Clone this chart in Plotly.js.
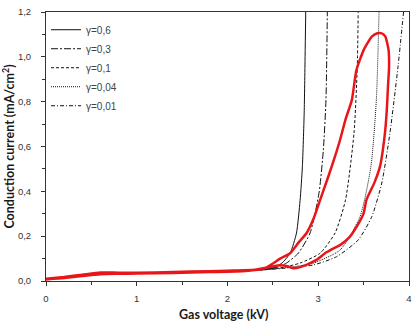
<!DOCTYPE html>
<html>
<head>
<meta charset="utf-8">
<script src="https://cdn.plot.ly/plotly-3.0.1.min.js"></script>
<style>
  html, body { margin: 0; padding: 0; background: #fff; }
  #chart { width: 418px; height: 323px; }
</style>
</head>
<body>
<div id="chart"></div>
<script>
// Simulated conduction current for several secondary-emission coefficients (gamma)
const gammaLabels = ['γ=0,6', 'γ=0,3', 'γ=0,1', 'γ=0,04', 'γ=0,01'];

const voltG06 = [2.2, 2.35, 2.5, 2.6, 2.69, 2.76, 2.8, 2.825, 2.845, 2.855, 2.862];
const currG06 = [0.045, 0.05, 0.058, 0.08, 0.124, 0.214, 0.36, 0.51, 0.75, 1.0, 1.2];

const voltG03 = [2.2, 2.4, 2.55, 2.65, 2.78, 2.91, 3.008, 3.056, 3.085, 3.1];
const currG03 = [0.045, 0.052, 0.062, 0.08, 0.124, 0.214, 0.392, 0.584, 0.807, 1.2];

const voltG01 = [2.2, 2.4, 2.6, 2.8, 3.02, 3.185, 3.30, 3.394, 3.43, 3.44];
const currG01 = [0.045, 0.05, 0.06, 0.08, 0.124, 0.214, 0.361, 0.66, 0.956, 1.2];

const voltG004 = [2.2, 2.4, 2.6, 2.8, 2.95, 3.24, 3.46, 3.58, 3.64, 3.67];
const currG004 = [0.045, 0.05, 0.058, 0.068, 0.08, 0.138, 0.287, 0.51, 0.807, 1.2];

const voltG001 = [2.2, 2.4, 2.6, 2.94, 3.2, 3.44, 3.59, 3.70, 3.79, 3.88, 3.94];
const currG001 = [0.045, 0.05, 0.056, 0.071, 0.108, 0.183, 0.287, 0.437, 0.66, 0.96, 1.2];

// Measured current–voltage loop
const measVolt = [0, 0.2, 0.4, 0.6, 0.8, 1.0, 1.4, 1.8, 2.2, 2.4, 2.505,
  2.58, 2.69, 2.78, 2.87, 2.95, 3.02, 3.11, 3.18, 3.24, 3.3, 3.37, 3.42, 3.5, 3.59, 3.65,
  3.70, 3.74, 3.775, 3.78, 3.77, 3.755, 3.735, 3.68, 3.62, 3.53, 3.50, 3.42, 3.35, 3.24,
  3.17, 3.09, 2.98, 2.87, 2.80, 2.725, 2.66, 2.58, 2.5, 2.3, 2.0, 1.6, 1.2, 0.8,
  0.6, 0.4, 0.2, 0];
const measCurr = [0.007, 0.013, 0.022, 0.03, 0.032, 0.033, 0.036, 0.040, 0.045, 0.055, 0.079,
  0.1, 0.124, 0.17, 0.213, 0.28, 0.361, 0.465, 0.55, 0.629, 0.72, 0.807, 0.94, 1.03, 1.09, 1.105,
  1.105, 1.09, 1.03, 0.95, 0.88, 0.76, 0.66, 0.51, 0.44, 0.361, 0.302, 0.24, 0.198, 0.16,
  0.146, 0.128, 0.094, 0.072, 0.062, 0.057, 0.066, 0.07, 0.065, 0.05, 0.046, 0.042, 0.038, 0.037,
  0.038, 0.028, 0.018, 0.01];

const simSeries = [
  {x: voltG06, y: currG06, dash: 'solid'},
  {x: voltG03, y: currG03, dash: '7px,2px,2px,2px'},
  {x: voltG01, y: currG01, dash: '3px,2px'},
  {x: voltG004, y: currG004, dash: '1px,1px'},
  {x: voltG001, y: currG001, dash: '4px,2px,1px,2px'}
];

const traces = simSeries.map((s, i) => ({
  type: 'scatter',
  mode: 'lines',
  x: s.x,
  y: s.y,
  name: gammaLabels[i],
  line: {color: '#111', width: 1, dash: s.dash, shape: 'spline', smoothing: 0.6}
}));

traces.push({
  type: 'scatter',
  mode: 'lines',
  x: measVolt,
  y: measCurr,
  showlegend: false,
  line: {color: '#e8161b', width: 2.5, shape: 'spline', smoothing: 0.5}
});

const tickFont = {family: 'Liberation Sans, Arial, sans-serif', size: 9.5, color: '#333'};
const titleFont = {family: 'Lato, Carlito, sans-serif', size: 12.5, color: '#1a1a1a', weight: 'bold'};

const layout = {
  width: 418,
  height: 323,
  margin: {l: 46, r: 9, t: 12, b: 42},
  paper_bgcolor: '#fff',
  plot_bgcolor: '#fff',
  separators: ', ',
  showlegend: true,
  legend: {
    x: 0.0, y: 0.988, xanchor: 'left', yanchor: 'top',
    bgcolor: 'rgba(0,0,0,0)',
    font: {family: 'Liberation Sans, Arial, sans-serif', size: 10, color: '#444'},
    itemwidth: 30,
    tracegroupgap: 0
  },
  xaxis: {
    range: [0, 4],
    tickvals: [0, 1, 2, 3, 4],
    showgrid: false, zeroline: false,
    showline: true, linecolor: '#333', linewidth: 1, mirror: true,
    ticks: 'outside', ticklen: 4, tickcolor: '#333', tickwidth: 1,
    ticklabelstandoff: 5,
    minor: {dtick: 0.5, ticks: 'outside', ticklen: 3, tickcolor: '#333'},
    tickfont: tickFont,
    automargin: false
  },
  yaxis: {
    range: [0, 1.2],
    dtick: 0.2,
    tickformat: '.1f',
    showgrid: false, zeroline: false,
    showline: true, linecolor: '#333', linewidth: 1, mirror: true,
    ticks: 'outside', ticklen: 4, tickcolor: '#333', tickwidth: 1,
    ticklabelstandoff: 8,
    minor: {dtick: 0.1, ticks: 'outside', ticklen: 3, tickcolor: '#333'},
    tickfont: tickFont,
    automargin: false,
    title: {text: 'Conduction current (mA/cm<sup>2</sup>)', font: titleFont}
  },
  // x-axis caption sits further below the tick labels than the axis title allows
  annotations: [{
    text: 'Gas voltage (kV)',
    xref: 'paper', yref: 'paper',
    x: 0.489, y: -0.126,
    xanchor: 'center', yanchor: 'middle',
    showarrow: false,
    font: titleFont
  }]
};

Plotly.newPlot('chart', traces, layout, {displayModeBar: false, staticPlot: true});
</script>
</body>
</html>
